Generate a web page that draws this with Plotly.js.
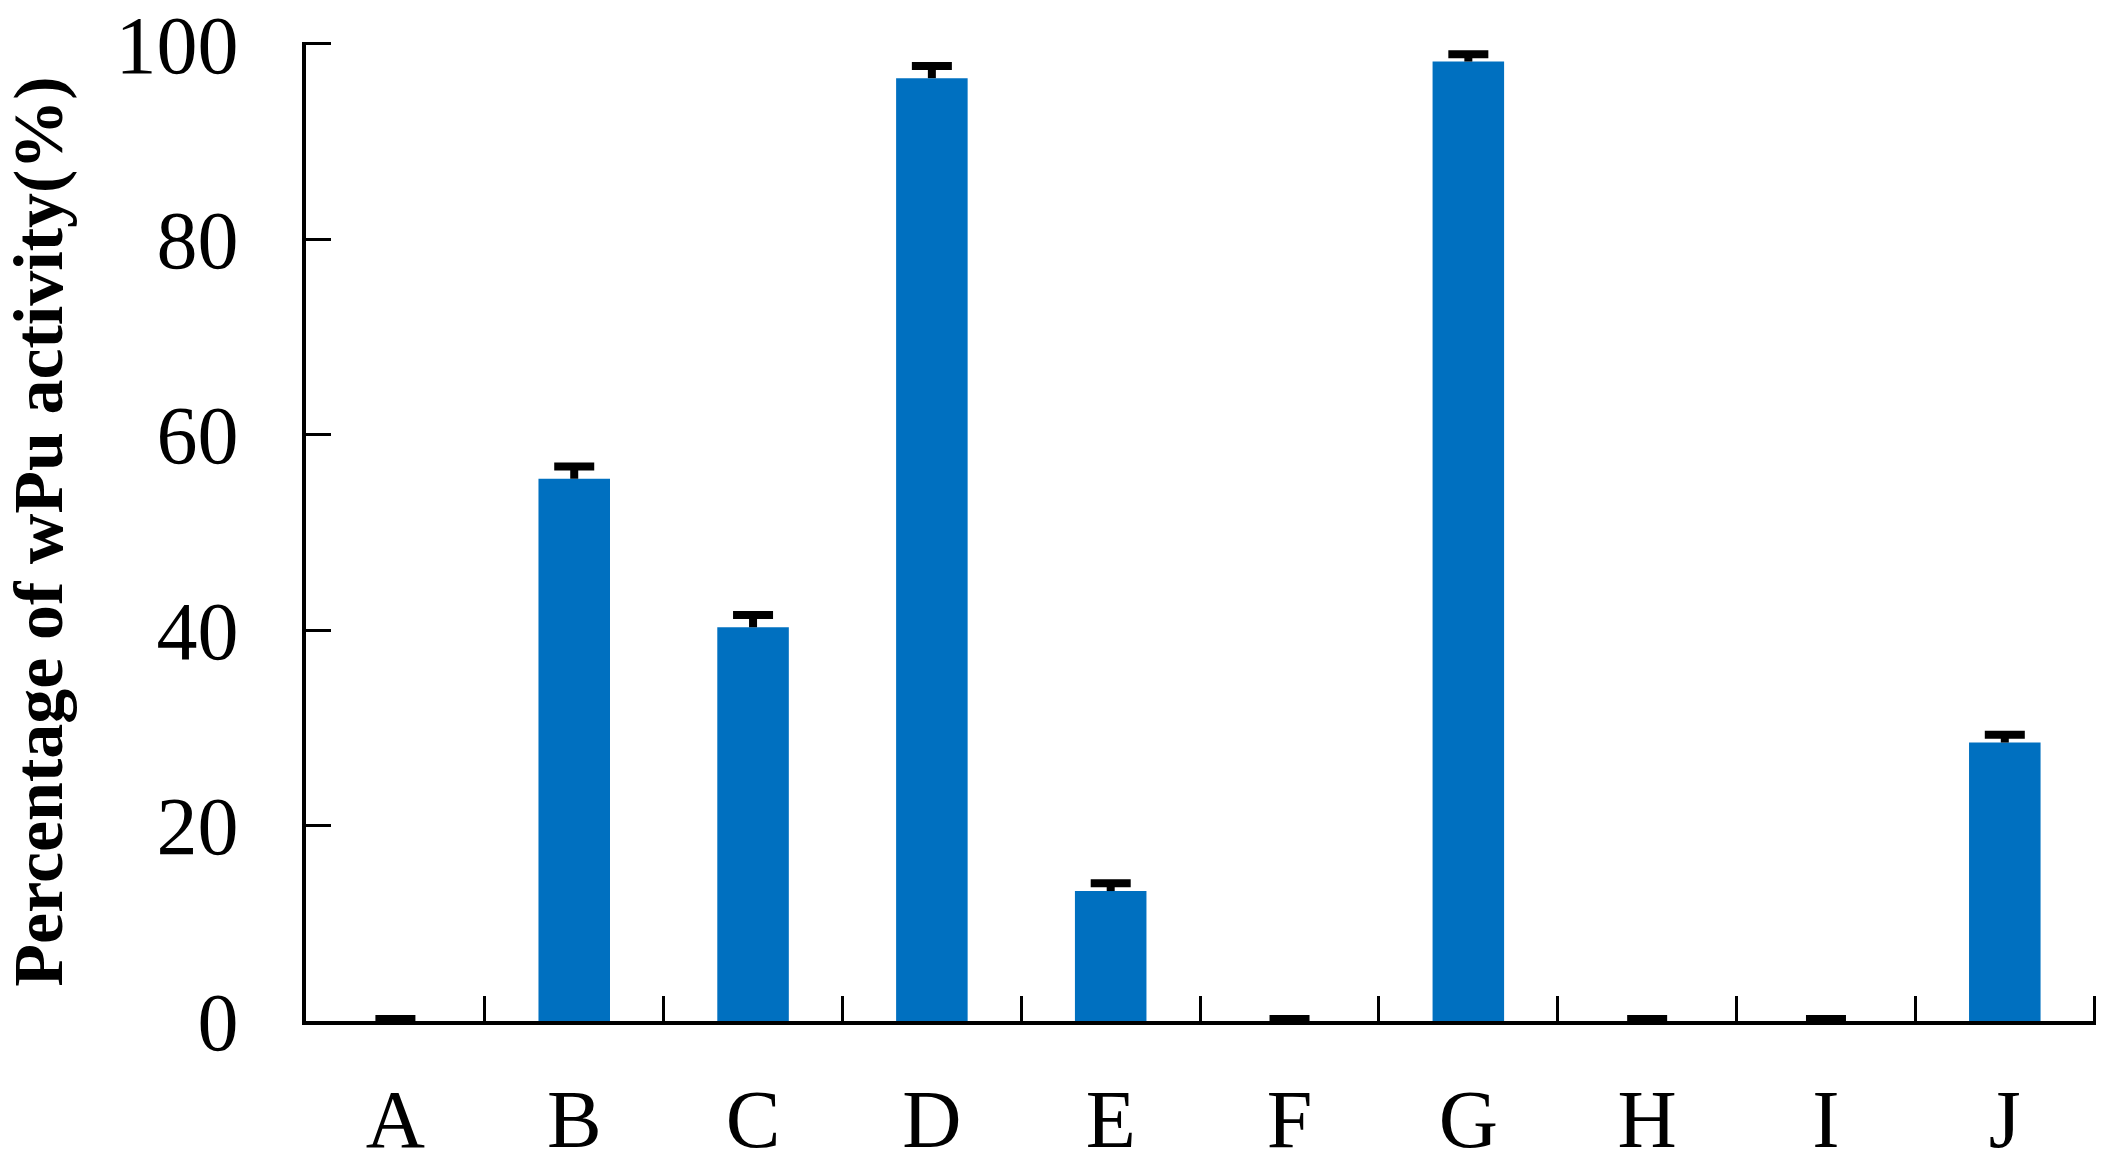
<!DOCTYPE html>
<html>
<head>
<meta charset="utf-8">
<script src="https://cdn.plot.ly/plotly-3.0.1.min.js"></script>
<style>
  html, body { margin: 0; padding: 0; background: #ffffff; }
  #chart { width: 2121px; height: 1165px; }
</style>
</head>
<body>
<div id="chart"></div>
<script>
// Data
const categories = ["A", "B", "C", "D", "E", "F", "G", "H", "I", "J"];
const activity   = [0, 55.5, 40.3, 96.5, 13.3, 0, 98.2, 0, 0, 28.5];
const errorsUp   = [0.2, 1.25, 1.25, 1.25, 0.8, 0.2, 0.75, 0.2, 0.2, 0.8];
const yTickVals  = [0, 20, 40, 60, 80, 100];
const yTitle     = "Percentage of wPu activity(%)";

const serif = "Liberation Serif, Times New Roman, serif";
const zeros = categories.map(() => 0);
const errorTops = activity.map((v, i) => v + errorsUp[i]);

// Bars with the upward error stem only (no caps)
const bars = {
  type: "bar",
  x: categories,
  y: activity,
  marker: { color: "#0070C0", line: { width: 0 } },
  error_y: {
    type: "data",
    symmetric: false,
    array: errorsUp,
    arrayminus: zeros,
    visible: true,
    color: "#000000",
    thickness: 8,
    width: 0
  },
  hoverinfo: "x+y"
};

// Cap at the top end of each error bar
const caps = {
  type: "scatter",
  mode: "markers",
  x: categories,
  y: errorTops,
  marker: { size: 1, opacity: 0 },
  error_y: {
    type: "data",
    symmetric: true,
    array: zeros,
    visible: true,
    color: "#000000",
    thickness: 8,
    width: 20
  },
  hoverinfo: "skip"
};

const layout = {
  width: 2121,
  height: 1165,
  paper_bgcolor: "#ffffff",
  plot_bgcolor: "#ffffff",
  margin: { l: 306, r: 25, t: 42, b: 144, pad: 0 },
  bargap: 0.6,
  showlegend: false,
  font: { family: serif, color: "#000000" },
  xaxis: {
    type: "category",
    range: [-0.5, 9.51],
    showgrid: false,
    zeroline: false,
    showline: true,
    linecolor: "#000000",
    linewidth: 4,
    ticks: "inside",
    tickson: "boundaries",
    ticklen: 25,
    tickwidth: 3,
    tickcolor: "#000000",
    tickfont: { family: serif, size: 82, color: "#000000" },
    ticklabelstandoff: 24
  },
  yaxis: {
    range: [0, 100.2],
    tickvals: yTickVals,
    ticktext: yTickVals.map(String),
    showgrid: false,
    zeroline: false,
    showline: true,
    linecolor: "#000000",
    linewidth: 4,
    ticks: "inside",
    ticklen: 25,
    tickwidth: 3,
    tickcolor: "#000000",
    tickfont: { family: serif, size: 82, color: "#000000" },
    ticklabelstandoff: 47,
    ticklabeloverflow: "allow",
    title: {
      text: yTitle,
      font: { family: serif, size: 70, color: "#000000", weight: "bold" },
      standoff: 60
    }
  }
};

Plotly.newPlot("chart", [bars, caps], layout, { displayModeBar: false, staticPlot: true });
</script>
</body>
</html>
